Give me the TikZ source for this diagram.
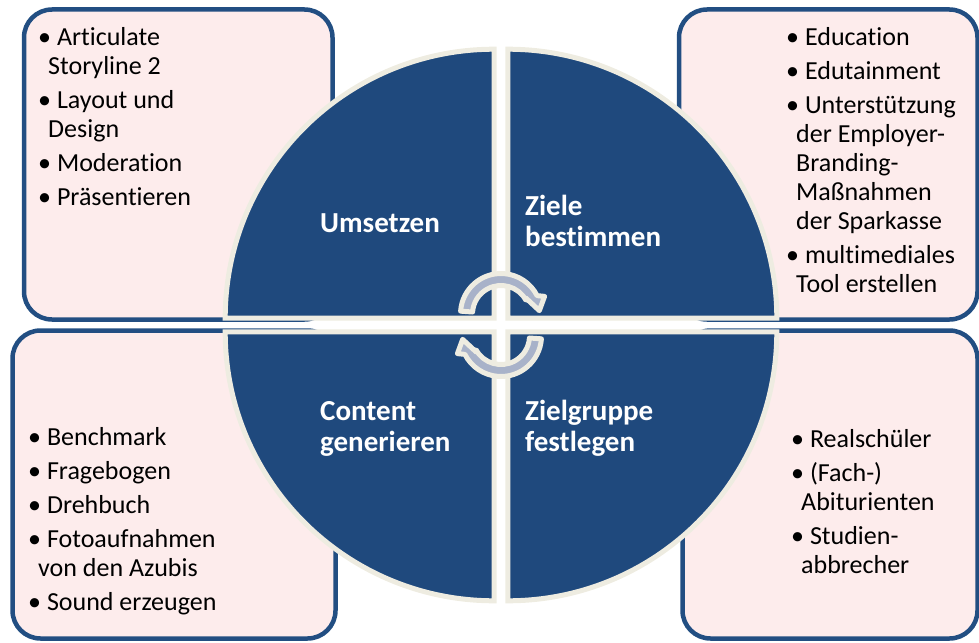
\documentclass[tikz,border=0pt]{standalone}
\usepackage{fontspec}
\setmainfont{Carlito}[Ligatures=NoCommon]
\usetikzlibrary{positioning}
\definecolor{qblue}{RGB}{31,73,125}
\definecolor{frameblue}{RGB}{34,78,130}
\definecolor{boxpink}{RGB}{253,236,236}
\definecolor{cream}{RGB}{238,236,225}
\definecolor{arrowgray}{RGB}{168,178,201}
\newcommand\itemfont{\fontsize{26}{29}\selectfont}
\newcommand\labelfont{\fontsize{29}{31}\selectfont\bfseries}
\newcommand\bul{\strut\textbullet\ }
\newcommand\cont{\hspace*{10pt}}

\begin{document}
\begin{tikzpicture}[
    x=1pt, y=-1pt,
    infobox/.style={draw=frameblue, line width=4.5pt, fill=boxpink,
        rounded corners=28pt, inner sep=0pt},
    quadrant/.style={fill=qblue, draw=cream, line width=5pt},
    cyclearrow/.style={fill=arrowgray, draw=cream, line width=5pt, line join=round},
    itemtext/.style={inner sep=0pt, anchor=north west, align=left, font=\itemfont},
    quadlabel/.style={inner sep=0pt, anchor=north west, align=left, font=\labelfont, text=white}
]
    \useasboundingbox (0,0) rectangle (979,642);

    % Boxes
    \node[infobox, minimum width=308.5pt, minimum height=310pt] (tlbox) at (178.25,164.5) {};
    \node[infobox, minimum width=298.5pt, minimum height=310pt] (trbox) at (828.25,164.5) {};
    \node[infobox, minimum width=323pt, minimum height=308pt] (blbox) at (174,484.5) {};
    \node[infobox, minimum width=295pt, minimum height=308pt] (brbox) at (830,484.5) {};

    % Circle quadrants
    \foreach \a/\sx/\sy in {180/-1/-1, 270/1/-1, 0/1/1, 90/-1/1}
        \draw[quadrant] (501+\sx*6.8, 325+\sy*6.8) -- ++(\a:269)
            arc[start angle=\a, delta angle=90, radius=269] -- cycle;

    % Cycle arrows
    \foreach \r in {0,180}{
        \begin{scope}[shift={(501,325)}, rotate=\r, shift={(0,-11)}]
            \draw[cyclearrow] (184:40.5) arc[start angle=184, end angle=333, radius=40.5]
                -- (338:47) -- (355:38.5) -- (327:29.5) -- (331:28.5)
                arc[start angle=331, end angle=184, radius=28.5] -- cycle;
        \end{scope}
    }

    % Quadrant labels
    \node[quadlabel] (umsetzen) at (320,210.3) {\strut Umsetzen};
    \node[quadlabel] (ziele) at (525,193.3) {\strut Ziele\\bestimmen};
    \node[quadlabel] (content) at (320,398.3) {\strut Content\\generieren};
    \node[quadlabel] (zielgruppe) at (525,398.3) {\strut Zielgruppe\\festlegen};

    % Box texts
    \node[itemtext] (tltext) at (38,24.7) {\bul Articulate\\\cont Storyline 2\\[5pt]
        \bul Layout und\\\cont Design\\[5pt]
        \bul Moderation\\[5pt]
        \bul Präsentieren};
    \node[itemtext] (trtext) at (786,24.7) {\bul Education\\[5pt]
        \bul Edutainment\\[5pt]
        \bul Unterstützung\\\cont der Employer-\\\cont Branding-\\\cont Maßnahmen\\\cont der Sparkasse\\[5pt]
        \bul multimediales\\\cont Tool erstellen};
    \node[itemtext] (bltext) at (28,424.7) {\bul Benchmark\\[5pt]
        \bul Fragebogen\\[5pt]
        \bul Drehbuch\\[5pt]
        \bul Fotoaufnahmen\\\cont von den Azubis\\[5pt]
        \bul Sound erzeugen};
    \node[itemtext] (brtext) at (791,426.7) {\bul Realschüler\\[5pt]
        \bul (Fach-)\\\cont Abiturienten\\[5pt]
        \bul Studien-\\\cont abbrecher};
\end{tikzpicture}
\end{document}
